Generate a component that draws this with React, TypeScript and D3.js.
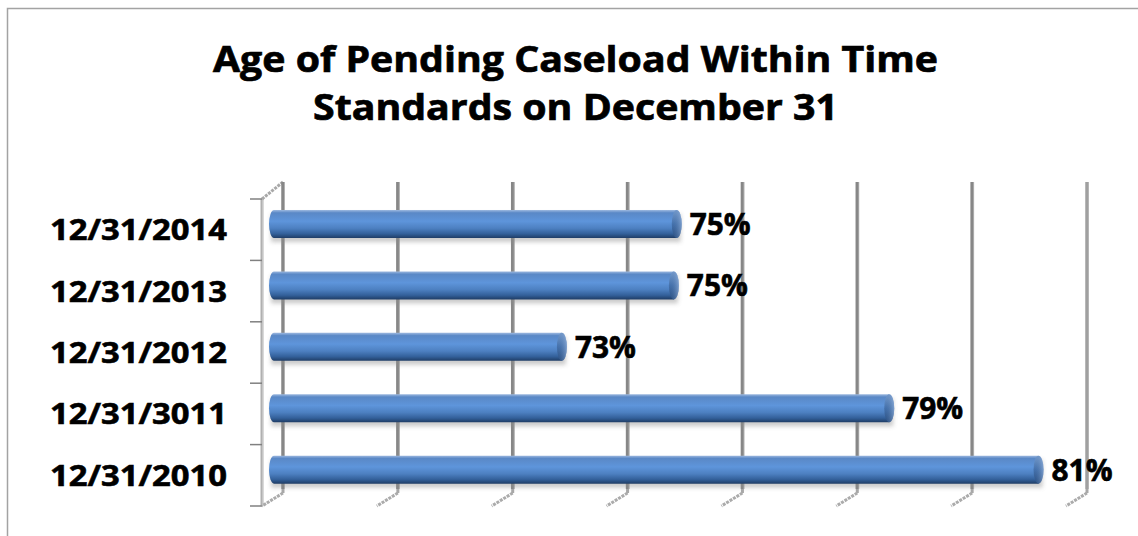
import React from "react";
import * as d3 from "d3";

const titleLines = ["Age of Pending Caseload Within Time", "Standards on December 31"];
const categories = ["12/31/2014", "12/31/2013", "12/31/2012", "12/31/3011", "12/31/2010"];
const values = [0.751, 0.7505, 0.731, 0.788, 0.814];
const valueLabels = ["75%", "75%", "73%", "79%", "81%"];
const gridTicks = [0.68, 0.7, 0.72, 0.74, 0.76, 0.78, 0.8, 0.82];

const W = 1138;
const H = 536;
const FONT = "'Open Sans', 'Noto Sans', sans-serif";

// back plane of the 3D plot
const backLeft = 283;
const backRight = 1087;
const backTop = 182;
const backBottom = 489;
// depth vector from back plane to front plane
const depthX = -21;
const depthY = 17;
const barDepth = 2 / 3;
const barH = 28;

export default function App() {
  const x = d3.scaleLinear().domain([0.68, 0.82]).range([backLeft, backRight]);
  const y = d3.scaleBand<string>().domain(categories).range([backTop, backBottom]);
  const bw = y.bandwidth();
  const boundaries = d3.range(categories.length + 1).map((i) => backTop + i * bw);

  const bdx = depthX * barDepth;
  const bdy = depthY * barDepth;
  const capRx = 5;

  return (
    <svg
      width={W}
      height={H}
      style={{ position: "absolute", left: 0, top: 0, display: "block", background: "#fff" }}
    >
      <defs>
        <linearGradient id="barGrad" x1="0" y1="0" x2="0" y2="1">
          <stop offset="0" stopColor="#9db9e0" />
          <stop offset="0.1" stopColor="#5a88c6" />
          <stop offset="0.4" stopColor="#5e95db" />
          <stop offset="0.65" stopColor="#4d80c1" />
          <stop offset="0.85" stopColor="#33609a" />
          <stop offset="1" stopColor="#1f3d66" />
        </linearGradient>
        <linearGradient id="capGrad" x1="0" y1="0" x2="0" y2="1">
          <stop offset="0" stopColor="#7aa0d2" />
          <stop offset="0.5" stopColor="#4572ad" />
          <stop offset="1" stopColor="#2b4f80" />
        </linearGradient>
        <linearGradient id="capEdge" x1="0" y1="0" x2="1" y2="0">
          <stop offset="0" stopColor="#2f578c" stopOpacity="0" />
          <stop offset="1" stopColor="#9fbbe2" />
        </linearGradient>
        <filter id="shadow" x="-5%" y="-50%" width="110%" height="200%">
          <feGaussianBlur stdDeviation="2" />
        </filter>
      </defs>

      {/* outer chart border */}
      <rect x={7.5} y={8.5} width={1140} height={540} fill="#fff" stroke="#a3a3a3" strokeWidth={1.5} />

      {/* title */}
      <g fontFamily={FONT} fontWeight={700} fill="#000" stroke="#000" strokeWidth={0.7}>
        <text x={213} y={72} fontSize={36} textLength={725} lengthAdjust="spacingAndGlyphs">
          {titleLines[0]}
        </text>
        <text x={313} y={120} fontSize={36} textLength={525} lengthAdjust="spacingAndGlyphs">
          {titleLines[1]}
        </text>
      </g>

      {/* left wall */}
      <line x1={backLeft + depthX} y1={backTop + depthY} x2={backLeft + depthX} y2={backBottom + depthY} stroke="#b0b0b0" strokeWidth={3} />
      <line x1={backLeft + depthX + 1} y1={backTop + depthY} x2={backLeft + depthX + 1} y2={backBottom + depthY} stroke="#dcdcdc" strokeWidth={1} />
      <line x1={backLeft + depthX} y1={backTop + depthY} x2={backLeft} y2={backTop} stroke="#a8a8a8" strokeWidth={3} strokeDasharray="3 1" />
      {boundaries.map((b, i) => (
        <line key={"t" + i} x1={backLeft + depthX - 12} x2={backLeft + depthX} y1={b + depthY} y2={b + depthY} stroke="#808080" strokeWidth={1.5} />
      ))}

      {/* gridlines with floor stubs */}
      {gridTicks.map((t, i) => (
        <g key={"g" + i}>
          <line x1={x(t)} x2={x(t)} y1={backTop} y2={backBottom} stroke={i === gridTicks.length - 1 ? "#a0a0a0" : "#878787"} strokeWidth={3.5} />
          <line x1={x(t) + 1.5} x2={x(t) + 1.5} y1={backTop} y2={backBottom} stroke="#b5b5b5" strokeWidth={0.8} />
          <line x1={x(t)} y1={backBottom} x2={x(t)} y2={backBottom + 4} stroke="#a8a8a8" strokeWidth={3} />
          <line x1={x(t)} y1={backBottom + 4} x2={x(t) + depthX} y2={backBottom + depthY} stroke="#ababab" strokeWidth={3} strokeDasharray="3 1" />
        </g>
      ))}

      {/* bars */}
      {categories.map((c, i) => {
        const cy = (y(c) as number) + bw / 2 + bdy;
        const x0 = backLeft + bdx;
        const x1 = x(values[i]) + bdx;
        const top = cy - barH / 2;
        const r = barH / 2;
        const body = `M${x0 + capRx},${top} L${x1},${top} L${x1},${top + barH} L${x0 + capRx},${top + barH} A${capRx},${r} 0 0 1 ${x0 + capRx},${top} Z`;
        return (
          <g key={"b" + i}>
            <rect x={x0 + 2} y={top + 4} width={x1 - x0 + 2} height={barH} fill="#8c8c8c" opacity={0.45} filter="url(#shadow)" />
            <path d={body} fill="url(#barGrad)" />
            <ellipse cx={x1} cy={cy} rx={capRx} ry={r} fill="url(#capGrad)" />
            <ellipse cx={x1} cy={cy} rx={capRx} ry={r} fill="url(#capEdge)" opacity={0.6} />
            <text
              x={x1 + capRx + 8}
              y={cy + 11}
              fontFamily={FONT}
              fontWeight={700}
              fontSize={30}
              textLength={61}
              lengthAdjust="spacingAndGlyphs"
              fill="#000"
              stroke="#000"
              strokeWidth={0.6}
            >
              {valueLabels[i]}
            </text>
          </g>
        );
      })}

      {/* category labels */}
      {categories.map((c, i) => {
        const cy = (y(c) as number) + bw / 2 + depthY;
        return (
          <text
            key={"c" + i}
            x={50}
            y={cy + 10.5}
            fontFamily={FONT}
            fontWeight={700}
            fontSize={29}
            textLength={177}
            lengthAdjust="spacingAndGlyphs"
            fill="#000"
            stroke="#000"
            strokeWidth={0.6}
          >
            {c}
          </text>
        );
      })}
    </svg>
  );
}
